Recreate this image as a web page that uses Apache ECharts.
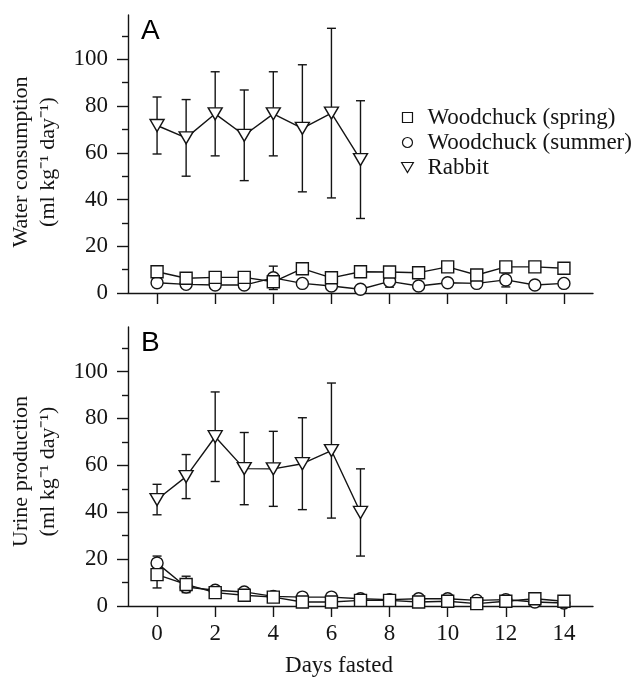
<!DOCTYPE html>
<html>
<head>
<meta charset="utf-8">
<script src="https://cdn.jsdelivr.net/npm/echarts@6/dist/echarts.min.js"></script>
<style>
  html, body { margin: 0; padding: 0; background: #fff; }
  #chart { width: 641px; height: 679px; }
</style>
</head>
<body>
<div id="chart"></div>
<script>
// days fasted (x)
const days = [0, 1, 2, 3, 4, 5, 6, 7, 8, 9, 10, 11, 12, 13, 14];
const xTicks = [0, 2, 4, 6, 8, 10, 12, 14];
const yMajor = [0, 20, 40, 60, 80, 100];
const yMinor = [10, 30, 50, 70, 90, 110];

// panel A: water consumption (ml kg-1 day-1)
const waterSpring = [9.1, 6.3, 6.7, 6.7, 4.8, 10.4, 6.5, 9.1, 9.0, 8.7, 11.2, 7.7, 11.2, 11.2, 10.6];
const waterSummer = [4.4, 3.7, 3.4, 3.4, 6.5, 4.1, 3.0, 1.6, 5.0, 3.0, 4.4, 4.1, 5.6, 3.4, 4.1];
const waterSummerErr = [0, 0, 0, 0, 5, 0, 0, 0, 2.5, 0, 0, 0, 3, 0, 0];
const waterRabbit = [71.7, 66.4, 76.7, 67.5, 76.7, 70.5, 77.0, 57.1];
const waterRabbitErr = [12.2, 16.4, 18.0, 19.4, 18.0, 27.2, 36.3, 25.2];

// panel B: urine production (ml kg-1 day-1)
const urineSpring = [13.4, 9.2, 5.7, 4.6, 3.8, 1.7, 1.7, 2.4, 2.4, 1.7, 2.0, 1.0, 2.0, 3.1, 2.0];
const urineSpringErr = [5.7, 3.5, 0, 0, 0, 0, 0, 0, 0, 0, 0, 0, 0, 0, 0];
const urineSummer = [18.3, 8.1, 6.7, 6.0, 4.1, 3.8, 3.8, 3.1, 2.7, 3.1, 3.1, 2.4, 2.7, 1.7, 1.3];
const urineSummerErr = [3.0, 0, 0, 0, 0, 0, 0, 0, 0, 0, 0, 0, 0, 0, 0];
const urineRabbit = [45.4, 55.2, 72.2, 58.6, 58.5, 60.7, 66.3, 39.9];
const urineRabbitErr = [6.5, 9.4, 19.1, 15.4, 16.0, 19.6, 28.8, 18.6];

const names = ['Woodchuck (spring)', 'Woodchuck (summer)', 'Rabbit'];

const INK = '#141414';
const SERIF = '"Liberation Serif", "Times New Roman", serif';
const TRI = 'path://M0,0L14,0L7,12Z';

const pairs = (vals) => vals.map((v, i) => [days[i], v]);
const errPairs = (vals, errs) =>
  vals.map((v, i) => [days[i], v, errs[i]]).filter((d) => d[2] > 0);

function renderErr(params, api) {
  const x = api.value(0), y = api.value(1), e = api.value(2);
  const top = api.coord([x, y + e]);
  const bot = api.coord([x, Math.max(y - e, 0)]);
  const w = 4.5;
  const style = { stroke: INK, lineWidth: 1.4 };
  return {
    type: 'group',
    children: [
      { type: 'line', shape: { x1: top[0], y1: top[1], x2: bot[0], y2: bot[1] }, style },
      { type: 'line', shape: { x1: top[0] - w, y1: top[1], x2: top[0] + w, y2: top[1] }, style },
      { type: 'line', shape: { x1: bot[0] - w, y1: bot[1], x2: bot[0] + w, y2: bot[1] }, style },
    ],
  };
}

function errSeries(idx, vals, errs) {
  return {
    type: 'custom', xAxisIndex: idx, yAxisIndex: idx * 2, z: 1,
    renderItem: renderErr, data: errPairs(vals, errs), silent: true,
  };
}

function lineSeries(idx, name, vals, symbol, size) {
  return {
    type: 'line', name, xAxisIndex: idx, yAxisIndex: idx * 2, z: 3,
    data: pairs(vals), symbol, symbolSize: size, showAllSymbol: true,
    lineStyle: { color: INK, width: 1.4 },
    itemStyle: { color: '#fff', borderColor: INK, borderWidth: 1.4 },
    emphasis: { disabled: true },
  };
}

function xAxis(idx, showLabels) {
  return {
    type: 'value', gridIndex: idx, min: -1, max: 15,
    axisLine: { onZero: false, lineStyle: { color: INK, width: 1.4 } },
    axisTick: { customValues: xTicks, length: 11, lineStyle: { color: INK, width: 1.4 } },
    axisLabel: {
      show: showLabels, customValues: xTicks, margin: 16,
      color: INK, fontFamily: SERIF, fontSize: 23,
    },
    splitLine: { show: false },
  };
}

function yAxes(idx, title, shift) {
  return [
    {
      type: 'value', gridIndex: idx, min: 0, max: 119, position: 'left',
      name: title, nameLocation: 'middle', nameRotate: 90, nameGap: 66,
      nameTextStyle: {
        color: INK, fontFamily: SERIF, fontSize: 22, lineHeight: 27,
        padding: [0, shift, 0, 0],
      },
      axisLine: { onZero: false, lineStyle: { color: INK, width: 1.4 } },
      axisTick: { customValues: yMajor, length: 11, lineStyle: { color: INK, width: 1.4 } },
      axisLabel: { customValues: yMajor, margin: 20, color: INK, fontFamily: SERIF, fontSize: 23 },
      splitLine: { show: false },
    },
    {
      type: 'value', gridIndex: idx, min: 0, max: 119, position: 'left', offset: 0,
      axisLine: { show: false, onZero: false },
      axisTick: { customValues: yMinor, length: 6, lineStyle: { color: INK, width: 1.4 } },
      axisLabel: { show: false },
      splitLine: { show: false },
    },
  ];
}

const chart = echarts.init(document.getElementById('chart'), null, { renderer: 'canvas' });

chart.setOption({
  animation: false,
  backgroundColor: '#fff',
  grid: [
    { left: 127, right: 48, top: 15, height: 278 },
    { left: 127, right: 48, top: 327, height: 279 },
  ],
  xAxis: [xAxis(0, false), xAxis(1, true)],
  yAxis: [
    ...yAxes(0, 'Water consumption\n(ml kg\u207B\u00B9 day\u207B\u00B9)', 16),
    ...yAxes(1, 'Urine production\n(ml kg\u207B\u00B9 day\u207B\u00B9)', 10),
  ],
  legend: {
    orient: 'vertical', left: 401, top: 106, padding: 0, itemGap: 2,
    itemWidth: 30, itemHeight: 10, selectedMode: false,
    textStyle: { color: INK, fontFamily: SERIF, fontSize: 23, lineHeight: 22 },
    data: [
      { name: names[0], icon: 'path://M0,0H10V10H0Z' },
      { name: names[1], icon: 'circle' },
      { name: names[2], icon: 'path://M0,0L10,0L5,8.5Z' },
    ],
    itemStyle: { color: '#fff', borderColor: INK, borderWidth: 1.2 },
  },
  graphic: [
    { type: 'text', left: 141, top: 17, style: { text: 'A', font: '28px "Liberation Sans", Arial, sans-serif', fill: '#000' } },
    { type: 'text', left: 141, top: 329, style: { text: 'B', font: '28px "Liberation Sans", Arial, sans-serif', fill: '#000' } },
    { type: 'text', x: 339, y: 666, style: { text: 'Days fasted', font: '23px ' + SERIF, fill: INK, align: 'center', verticalAlign: 'middle' } },
  ],
  series: [
    errSeries(0, waterRabbit, waterRabbitErr),
    errSeries(0, waterSummer, waterSummerErr),
    lineSeries(0, names[1], waterSummer, 'circle', 12),
    lineSeries(0, names[0], waterSpring, 'rect', 12),
    lineSeries(0, names[2], waterRabbit, TRI, [14, 12]),

    errSeries(1, urineRabbit, urineRabbitErr),
    errSeries(1, urineSpring, urineSpringErr),
    errSeries(1, urineSummer, urineSummerErr),
    lineSeries(1, names[1], urineSummer, 'circle', 12),
    lineSeries(1, names[0], urineSpring, 'rect', 12),
    lineSeries(1, names[2], urineRabbit, TRI, [14, 12]),
  ],
});
</script>
</body>
</html>
